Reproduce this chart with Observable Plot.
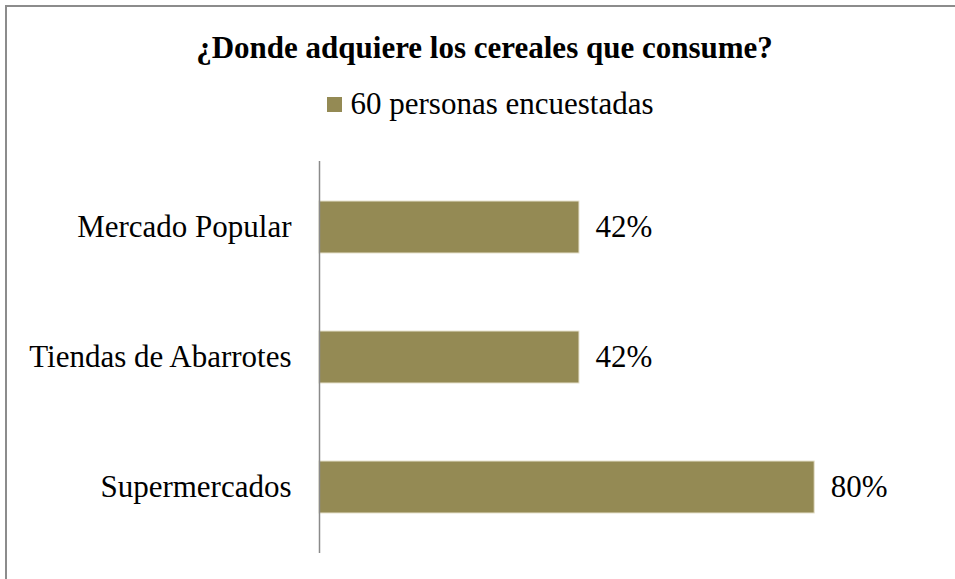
<!DOCTYPE html>
<html>
<head>
<meta charset="utf-8">
<script src="https://cdn.jsdelivr.net/npm/d3@7"></script>
<script src="https://cdn.jsdelivr.net/npm/@observablehq/plot@0.6"></script>
<style>
  html, body { margin: 0; padding: 0; background: #fff; overflow: hidden; }
  body { width: 955px; height: 579px; position: relative; font-family: "Liberation Serif", "Times New Roman", serif; }
  #frame { position: absolute; left: 5px; top: 5px; width: 2000px; height: 2000px; border-left: 2px solid #8c8c8c; border-top: 2px solid #8c8c8c; box-sizing: border-box; }
  #wrap { position: absolute; left: 0; top: 0; width: 955px; height: 579px; }
  #title { box-sizing: border-box; height: 66px; padding-top: 30px; padding-left: 14px; line-height: 36px; text-align: center; font-weight: bold; font-size: 31px; color: #000; white-space: nowrap; }
  #legend { box-sizing: border-box; margin-top: 20px; height: 36px; line-height: 36px; padding-left: 26px; text-align: center; font-size: 31px; color: #000; white-space: nowrap; }
  #legend .sw { display: inline-block; width: 15px; height: 15px; background: #948A54; vertical-align: 2px; margin-right: 8px; }
</style>
</head>
<body>
<div id="frame"></div>
<div id="wrap">
  <div id="title">¿Donde adquiere los cereales que consume?</div>
  <div id="legend"><span class="sw"></span>60 personas encuestadas</div>
  <div id="chart"></div>
</div>
<script>
const categories = ["Mercado Popular", "Tiendas de Abarrotes", "Supermercados"];
const values = [42, 42, 80];
const seriesName = "60 personas encuestadas";

const data = categories.map((c, i) => ({category: c, value: values[i]}));

const chart = Plot.plot({
  width: 955,
  height: 457,
  marginTop: 39,
  marginBottom: 26,
  marginLeft: 319,
  marginRight: 17,
  style: {fontFamily: "'Liberation Serif', 'Times New Roman', serif", fontSize: "31px", color: "#000", background: "transparent"},
  x: {domain: [0, 100], axis: null},
  y: {domain: categories, paddingInner: 0.6, paddingOuter: 0.3, label: null},
  marks: [
    Plot.barX(data, {x: "value", y: "category", fill: "#948A54", stroke: "#e6e1cc", strokeWidth: 1}),
    Plot.ruleX([0], {stroke: "#8a8a8a", strokeWidth: 1.5}),
    Plot.text(data, {x: "value", y: "category", text: d => `${d.value}%`, textAnchor: "start", dx: 16, fontSize: 31, fill: "#000"}),
    Plot.axisY({tickSize: 0, tickPadding: 28, fontSize: 31, label: null})
  ]
});
document.getElementById("chart").appendChild(chart);
</script>
</body>
</html>
